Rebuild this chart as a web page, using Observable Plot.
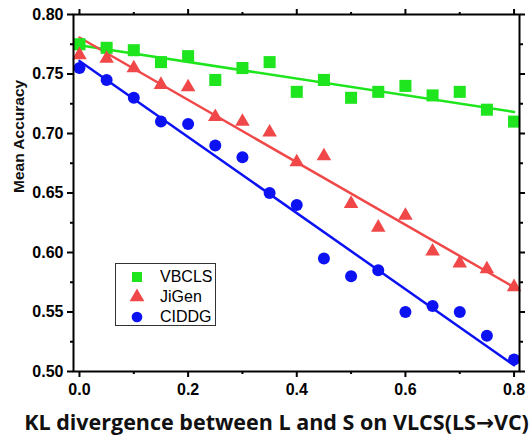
<!DOCTYPE html>
<html>
<head>
<meta charset="utf-8">
<script src="https://cdn.jsdelivr.net/npm/d3@7"></script>
<script src="https://cdn.jsdelivr.net/npm/@observablehq/plot@0.6"></script>
<style>
  html, body { margin: 0; padding: 0; background: white; }
  #wrap { position: relative; width: 532px; height: 437px; }
  #wrap > svg { display: block; }
  #legend {
    position: absolute; left: 115px; top: 263px; width: 101px; height: 63px;
    border: 1px solid #333; background: white; box-sizing: border-box;
    font-family: "Liberation Sans", Arial, sans-serif; font-size: 16px;
    padding-top: 3px;
  }
  .row { display: flex; align-items: center; height: 20px; white-space: nowrap; }
  .row svg { flex: 0 0 auto; overflow: visible; margin-left: 12px; }
  .row span { margin-left: 14px; }
</style>
</head>
<body>
<div id="wrap"><div id="legend"></div></div>
<script>
// ---- data ----
const seriesNames = ["VBCLS", "JiGen", "CIDDG"];
const seriesColors = ["#1fe51f", "#f04848", "#0c12f2"];
const seriesSymbols = ["square", "triangle", "circle"];
const kl = [0, 0.05, 0.1, 0.15, 0.2, 0.25, 0.3, 0.35, 0.4, 0.45, 0.5, 0.55, 0.6, 0.65, 0.7, 0.75, 0.8];
const vbcls = [0.775, 0.772, 0.770, 0.760, 0.765, 0.745, 0.755, 0.760, 0.735, 0.745, 0.730, 0.735, 0.740, 0.732, 0.735, 0.720, 0.710];
const jigen = [0.766, 0.763, 0.755, 0.741, 0.739, 0.714, 0.710, 0.701, 0.676, 0.681, 0.641, 0.621, 0.631, 0.601, 0.591, 0.586, 0.571];
const ciddg = [0.755, 0.745, 0.730, 0.710, 0.708, 0.690, 0.680, 0.650, 0.640, 0.595, 0.580, 0.585, 0.550, 0.555, 0.550, 0.530, 0.510];
const xTicks = [0, 0.2, 0.4, 0.6, 0.8];
const xMinor = [0.1, 0.3, 0.5, 0.7];
const yTicks = [0.50, 0.55, 0.60, 0.65, 0.70, 0.75, 0.80];
const yMinor = [0.525, 0.575, 0.625, 0.675, 0.725, 0.775];
const xLabel = "KL divergence between L and S on VLCS(LS→VC)";
const yLabel = "Mean Accuracy";

const seriesValues = [vbcls, jigen, ciddg];
const rows = seriesNames.flatMap((name, i) => kl.map((x, j) => ({series: name, x, y: seriesValues[i][j]})));
const dotR = {square: 6.8, triangle: 5.4, circle: 6};

const blank = () => "";

const chart = Plot.plot({
  width: 532, height: 437,
  marginLeft: 73, marginRight: 13, marginTop: 14, marginBottom: 66,
  x: {domain: [-0.011, 0.81]},
  y: {domain: [0.5, 0.8]},
  style: {background: "white", color: "black", overflow: "visible",
          fontFamily: "Liberation Sans, Arial, sans-serif", fontSize: "16px", fontWeight: "bold"},
  marks: [
    // regression lines
    ...seriesNames.map((name, i) => Plot.linearRegressionY(rows.filter(d => d.series === name), {
      x: "x", y: "y", stroke: seriesColors[i], strokeWidth: 2.5, ci: 0
    })),
    // points
    ...seriesNames.map((name, i) => Plot.dot(rows.filter(d => d.series === name), {
      x: "x", y: "y", symbol: () => seriesSymbols[i], fill: seriesColors[i], stroke: "none",
      r: dotR[seriesSymbols[i]]
    })),
    Plot.frame({stroke: "black", strokeWidth: 2}),
    // major axes
    Plot.axisX({anchor: "bottom", ticks: xTicks, tickFormat: d3.format(".1f"), tickSize: 6, tickPadding: 6, strokeWidth: 2, label: null, fontSize: 16}),
    Plot.axisY({anchor: "left", ticks: yTicks, tickFormat: d3.format(".2f"), tickSize: 6, tickPadding: 4, strokeWidth: 2, label: null, fontSize: 16}),
    Plot.axisX({anchor: "top", ticks: xTicks, tickFormat: blank, tickSize: 6, strokeWidth: 2, label: null}),
    Plot.axisY({anchor: "right", ticks: yTicks, tickFormat: blank, tickSize: 5, strokeWidth: 2, label: null}),
    // minor ticks
    Plot.axisX({anchor: "bottom", ticks: xMinor, tickFormat: blank, tickSize: 3, strokeWidth: 2, label: null}),
    Plot.axisX({anchor: "top", ticks: xMinor, tickFormat: blank, tickSize: 3, strokeWidth: 2, label: null}),
    Plot.axisY({anchor: "left", ticks: yMinor, tickFormat: blank, tickSize: 3, strokeWidth: 2, label: null}),
    Plot.axisY({anchor: "right", ticks: yMinor, tickFormat: blank, tickSize: 3, strokeWidth: 2, label: null}),
    // axis titles
    Plot.text([xLabel], {text: d => d, frameAnchor: "bottom", dy: 58, dx: -20, fontSize: 21.5, fontWeight: "bold", fontFamily: "Open Sans, DejaVu Sans, sans-serif", fill: "#111"}),
    Plot.text([yLabel], {text: d => d, frameAnchor: "left", rotate: -90, dx: -54, fontSize: 15.5, fontWeight: "bold", fontFamily: "Liberation Sans, Arial, sans-serif", fill: "#111"})
  ]
});
document.getElementById("wrap").prepend(chart);

// legend
const legend = d3.select("#legend");
seriesNames.forEach((name, i) => {
  const row = legend.append("div").attr("class", "row");
  const s = row.append("svg").attr("width", 18).attr("height", 18);
  const sym = {square: d3.symbolSquare, triangle: d3.symbolTriangle, circle: d3.symbolCircle}[seriesSymbols[i]];
  const size = {square: 100, triangle: 95, circle: 90}[seriesSymbols[i]];
  s.append("path").attr("transform", "translate(9,9)").attr("d", d3.symbol(sym, size)()).attr("fill", seriesColors[i]);
  row.append("span").text(name);
});
</script>
</body>
</html>
